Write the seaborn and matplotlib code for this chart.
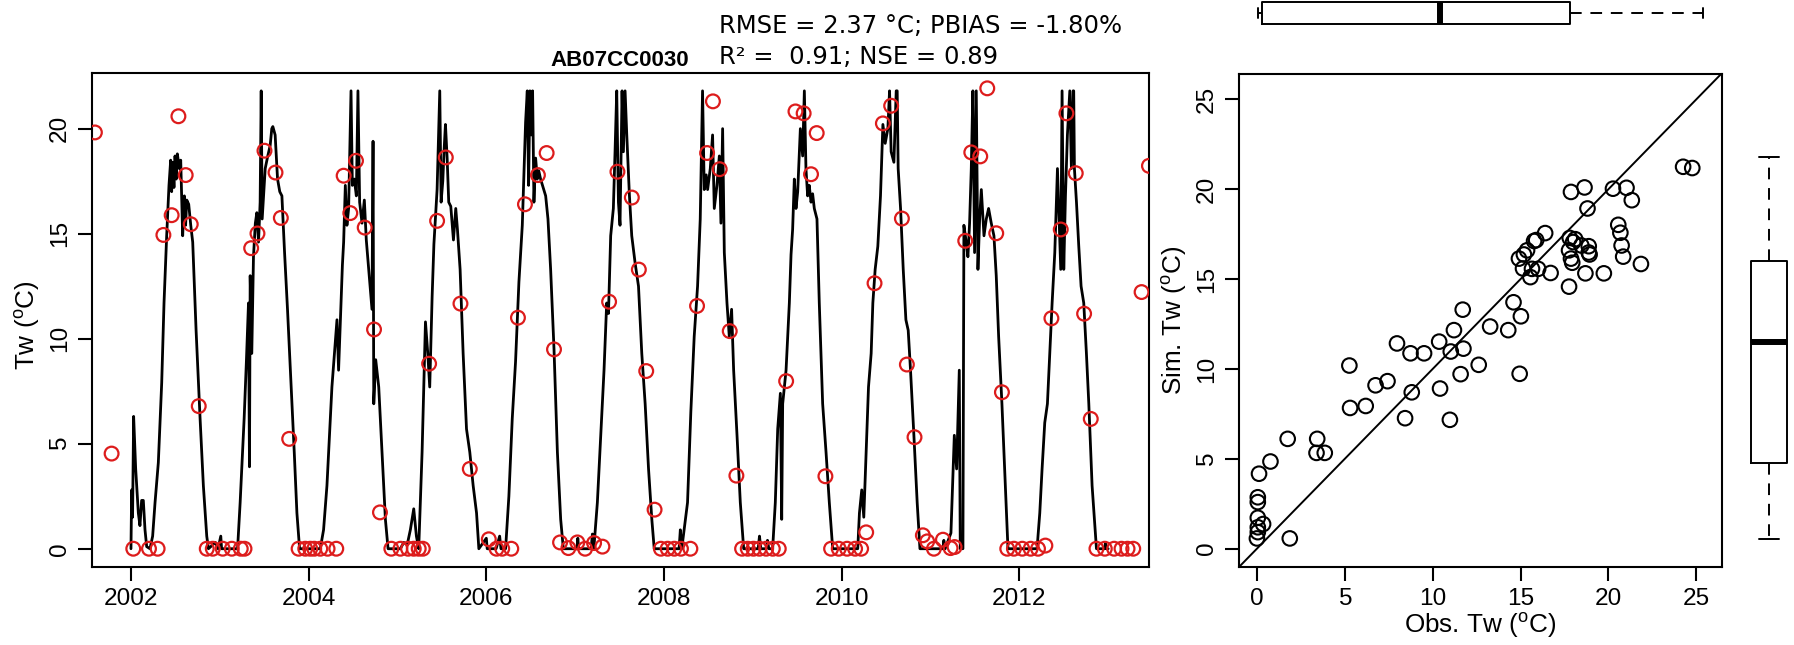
import matplotlib
matplotlib.use("Agg")
import numpy as np
import pandas as pd
import seaborn as sns
import matplotlib.pyplot as plt

#### DATA
station = "AB07CC0030"
stats_line1 = "RMSE = 2.37 \u00b0C; PBIAS = -1.80%"
stats_line2 = "R\u00b2 =  0.91; NSE = 0.89"

# simulated water temperature, key points per season (decimal year, degC)
sim_2002 = [(2002.000, 0.0), (2002.008, 2.8), (2002.018, 1.5), (2002.030, 6.3), (2002.053, 3.8),
            (2002.083, 1.7), (2002.101, 1.1), (2002.120, 2.3), (2002.139, 2.3), (2002.158, 0.9),
            (2002.177, 0.1), (2002.214, 0.0), (2002.244, 0.6), (2002.271, 2.2), (2002.308, 4.1),
            (2002.346, 7.9), (2002.372, 11.7), (2002.402, 14.9), (2002.428, 17.3), (2002.447, 18.5),
            (2002.458, 17.0), (2002.470, 18.4), (2002.484, 17.2), (2002.496, 18.7), (2002.510, 17.6),
            (2002.522, 18.8), (2002.545, 18.1), (2002.560, 18.5), (2002.582, 14.9), (2002.601, 16.8),
            (2002.615, 15.4), (2002.628, 16.6), (2002.650, 16.4), (2002.673, 15.4), (2002.695, 14.6),
            (2002.733, 10.4), (2002.778, 6.2), (2002.815, 3.0), (2002.853, 0.6), (2002.872, 0.0),
            (2002.950, 0.3), (2002.980, 0.0), (2003.011, 0.6), (2003.020, 0.0), (2003.200, 0.0)]
sim_2003 = [(2003.229, 2.2), (2003.274, 6.2), (2003.300, 9.0), (2003.323, 11.7), (2003.334, 3.9),
            (2003.342, 13.0), (2003.360, 9.3), (2003.379, 13.9), (2003.400, 15.5), (2003.417, 16.0),
            (2003.436, 14.6), (2003.454, 16.5), (2003.466, 21.8), (2003.477, 15.7), (2003.495, 17.0),
            (2003.511, 18.1), (2003.540, 18.7), (2003.567, 19.2), (2003.585, 20.0), (2003.597, 20.1),
            (2003.623, 19.7), (2003.650, 17.6), (2003.675, 17.0), (2003.699, 16.8), (2003.729, 14.1),
            (2003.762, 11.4), (2003.804, 7.7), (2003.838, 4.6), (2003.868, 1.7), (2003.898, 0.0),
            (2004.131, 0.0)]
sim_2004 = [(2004.168, 0.9), (2004.206, 3.0), (2004.262, 7.7), (2004.300, 9.8), (2004.319, 10.9),
            (2004.337, 8.5), (2004.364, 11.7), (2004.380, 13.5), (2004.394, 14.6), (2004.413, 17.3),
            (2004.431, 15.4), (2004.450, 16.2), (2004.477, 21.8), (2004.492, 17.3), (2004.514, 17.6),
            (2004.537, 16.8), (2004.555, 21.8), (2004.574, 16.5), (2004.601, 15.5), (2004.627, 16.6),
            (2004.649, 14.7), (2004.676, 13.3), (2004.706, 11.7), (2004.713, 11.4), (2004.725, 19.4),
            (2004.733, 6.9), (2004.755, 9.0), (2004.789, 7.7), (2004.826, 4.6), (2004.864, 1.4),
            (2004.894, 0.0), (2005.033, 0.0), (2005.070, 0.3), (2005.110, 0.2), (2005.145, 0.9),
            (2005.183, 1.9), (2005.213, 0.6), (2005.239, 0.0)]
sim_2005 = [(2005.277, 4.6), (2005.315, 10.8), (2005.341, 9.3), (2005.363, 7.7), (2005.390, 12.0),
            (2005.410, 14.5), (2005.427, 15.7), (2005.446, 17.1), (2005.476, 21.8), (2005.491, 16.5),
            (2005.510, 17.5), (2005.525, 19.0), (2005.540, 20.2), (2005.559, 18.6), (2005.577, 16.5),
            (2005.600, 16.3), (2005.630, 14.7), (2005.656, 16.2), (2005.675, 15.2), (2005.705, 13.3),
            (2005.739, 9.3), (2005.777, 5.7), (2005.814, 4.6), (2005.852, 3.0), (2005.890, 1.7),
            (2005.916, 0.0), (2006.000, 0.5), (2006.010, 0.0), (2006.110, 0.0), (2006.150, 0.6),
            (2006.165, 0.0), (2006.217, 0.0)]
sim_2006 = [(2006.254, 2.5), (2006.292, 6.2), (2006.329, 8.9), (2006.367, 12.7), (2006.405, 15.4),
            (2006.431, 18.9), (2006.442, 20.3), (2006.461, 21.8), (2006.476, 17.3), (2006.491, 21.8),
            (2006.506, 19.7), (2006.521, 21.8), (2006.536, 16.5), (2006.555, 18.6), (2006.574, 17.6),
            (2006.590, 18.0), (2006.611, 17.6), (2006.640, 17.2), (2006.668, 16.8), (2006.694, 15.7),
            (2006.724, 13.3), (2006.762, 9.5), (2006.800, 4.6), (2006.837, 1.4), (2006.867, 0.0),
            (2007.020, 0.0), (2007.030, 0.5), (2007.040, 0.0), (2007.180, 0.0), (2007.194, 0.7),
            (2007.210, 0.0)]
sim_2007 = [(2007.250, 2.2), (2007.288, 5.4), (2007.325, 8.5), (2007.355, 11.7), (2007.375, 11.2),
            (2007.400, 14.9), (2007.430, 16.2), (2007.449, 18.9), (2007.468, 21.8), (2007.487, 16.5),
            (2007.505, 15.4), (2007.528, 21.8), (2007.543, 18.9), (2007.562, 21.8), (2007.581, 19.7),
            (2007.611, 16.8), (2007.637, 14.9), (2007.675, 13.6), (2007.713, 12.5), (2007.750, 9.3),
            (2007.788, 6.9), (2007.826, 3.8), (2007.863, 1.4), (2007.890, 0.0), (2008.170, 0.0),
            (2008.184, 0.9), (2008.200, 0.0)]
sim_2008 = [(2008.265, 2.2), (2008.302, 6.5), (2008.340, 10.1), (2008.378, 12.5), (2008.408, 15.7),
            (2008.434, 21.8), (2008.453, 17.1), (2008.475, 17.8), (2008.491, 17.1), (2008.521, 18.1),
            (2008.547, 19.7), (2008.566, 16.2), (2008.596, 17.3), (2008.623, 18.7), (2008.641, 15.5),
            (2008.660, 20.0), (2008.679, 14.1), (2008.709, 11.7), (2008.735, 10.1), (2008.761, 11.4),
            (2008.784, 8.5), (2008.822, 5.4), (2008.859, 2.2), (2008.897, 0.0), (2009.060, 0.0),
            (2009.075, 0.6), (2009.090, 0.0), (2009.150, 0.0), (2009.165, 0.4), (2009.180, 0.0),
            (2009.223, 0.0)]
sim_2009 = [(2009.253, 2.2), (2009.280, 5.7), (2009.310, 7.4), (2009.325, 1.4), (2009.336, 6.9),
            (2009.374, 8.5), (2009.411, 11.7), (2009.430, 14.0), (2009.448, 15.2), (2009.467, 17.6),
            (2009.486, 16.2), (2009.505, 17.0), (2009.535, 20.0), (2009.561, 18.7), (2009.580, 21.8),
            (2009.598, 18.1), (2009.617, 16.8), (2009.635, 17.3), (2009.655, 16.5), (2009.673, 16.9),
            (2009.692, 16.2), (2009.722, 15.7), (2009.748, 11.7), (2009.786, 6.9), (2009.824, 4.6),
            (2009.861, 2.2), (2009.899, 0.0), (2010.181, 0.0)]
sim_2010 = [(2010.200, 1.7), (2010.226, 2.8), (2010.249, 1.5), (2010.276, 4.6), (2010.302, 7.7),
            (2010.332, 9.3), (2010.351, 11.7), (2010.377, 13.3), (2010.407, 14.4), (2010.437, 16.8),
            (2010.464, 20.2), (2010.490, 19.3), (2010.520, 20.0), (2010.539, 21.8), (2010.557, 18.9),
            (2010.588, 18.4), (2010.614, 21.8), (2010.625, 21.8), (2010.636, 18.1), (2010.663, 16.2),
            (2010.693, 13.3), (2010.723, 10.9), (2010.749, 10.4), (2010.775, 8.5), (2010.813, 5.4),
            (2010.850, 2.2), (2010.881, 0.0), (2011.140, 0.0), (2011.150, 0.4), (2011.165, 0.0),
            (2011.230, 0.75)]
sim_2011 = [(2011.268, 5.4), (2011.294, 3.8), (2011.324, 8.5), (2011.335, 0.0), (2011.365, 0.0),
            (2011.376, 15.4), (2011.402, 14.6), (2011.421, 13.9), (2011.440, 15.5), (2011.459, 18.1),
            (2011.477, 21.8), (2011.496, 14.1), (2011.515, 21.8), (2011.534, 13.3), (2011.553, 15.7),
            (2011.572, 17.1), (2011.602, 14.9), (2011.628, 15.7), (2011.654, 16.2), (2011.684, 15.5),
            (2011.714, 14.9), (2011.740, 13.0), (2011.767, 10.1), (2011.804, 6.9), (2011.834, 3.8),
            (2011.872, 0.0), (2012.200, 0.0), (2012.210, 0.6)]
sim_2012 = [(2012.230, 1.7), (2012.256, 3.8), (2012.286, 6.0), (2012.316, 6.9), (2012.342, 9.3),
            (2012.369, 11.7), (2012.399, 14.1), (2012.429, 18.1), (2012.447, 15.7), (2012.466, 13.3),
            (2012.481, 21.8), (2012.500, 13.3), (2012.519, 16.8), (2012.541, 19.7), (2012.568, 21.8),
            (2012.586, 18.1), (2012.605, 21.8), (2012.612, 21.8), (2012.620, 18.1), (2012.643, 16.5),
            (2012.669, 14.4), (2012.695, 12.5), (2012.725, 11.7), (2012.755, 9.3), (2012.782, 6.9),
            (2012.819, 3.0), (2012.868, 0.0), (2012.960, 0.0), (2012.970, 0.3), (2012.980, 0.0),
            (2013.000, 0.0)]

# observed water temperature (red circles)
obs_points = [(2001.594, 19.82), (2001.782, 4.53), (2002.026, 0.0), (2002.203, 0.0), (2002.300, 0.0),
              (2002.365, 14.94), (2002.458, 15.88), (2002.534, 20.59), (2002.616, 17.79), (2002.673, 15.45),
              (2002.763, 6.79), (2002.853, 0.0), (2002.921, 0.0), (2003.033, 0.0), (2003.135, 0.0),
              (2003.236, 0.0), (2003.278, 0.0), (2003.353, 14.31), (2003.424, 15.01), (2003.503, 18.95),
              (2003.627, 17.91), (2003.687, 15.75), (2003.781, 5.23), (2003.887, 0.0), (2003.962, 0.0),
              (2004.018, 0.0), (2004.063, 0.0), (2004.131, 0.0), (2004.213, 0.0), (2004.311, 0.0),
              (2004.394, 17.76), (2004.469, 15.98), (2004.533, 18.47), (2004.631, 15.29), (2004.736, 10.44),
              (2004.803, 1.73), (2004.931, 0.0), (2005.033, 0.0), (2005.119, 0.0), (2005.183, 0.0),
              (2005.239, 0.0), (2005.285, 0.0), (2005.356, 8.81), (2005.446, 15.61), (2005.544, 18.63),
              (2005.709, 11.67), (2005.814, 3.80), (2006.028, 0.45), (2006.115, 0.0), (2006.179, 0.0),
              (2006.281, 0.0), (2006.356, 11.0), (2006.435, 16.40), (2006.581, 17.79), (2006.679, 18.84),
              (2006.762, 9.49), (2006.830, 0.30), (2006.924, 0.03), (2007.025, 0.30), (2007.112, 0.0),
              (2007.213, 0.27), (2007.307, 0.10), (2007.382, 11.76), (2007.476, 17.95), (2007.638, 16.72),
              (2007.717, 13.29), (2007.800, 8.46), (2007.894, 1.86), (2007.965, 0.0), (2008.041, 0.0),
              (2008.116, 0.0), (2008.191, 0.0), (2008.297, 0.0), (2008.372, 11.56), (2008.485, 18.84),
              (2008.551, 21.30), (2008.627, 18.07), (2008.740, 10.36), (2008.815, 3.48), (2008.879, 0.0),
              (2008.943, 0.0), (2009.007, 0.0), (2009.074, 0.0), (2009.150, 0.0), (2009.225, 0.0),
              (2009.292, 0.0), (2009.375, 7.98), (2009.480, 20.82), (2009.572, 20.73), (2009.655, 17.83),
              (2009.719, 19.79), (2009.817, 3.45), (2009.881, 0.0), (2009.967, 0.0), (2010.061, 0.0),
              (2010.151, 0.0), (2010.219, 0.0), (2010.276, 0.78), (2010.370, 12.64), (2010.464, 20.25),
              (2010.557, 21.09), (2010.678, 15.72), (2010.734, 8.77), (2010.820, 5.31), (2010.914, 0.64),
              (2010.963, 0.35), (2011.038, 0.0), (2011.140, 0.43), (2011.226, 0.03), (2011.271, 0.08),
              (2011.391, 14.66), (2011.459, 18.87), (2011.560, 18.68), (2011.639, 21.92), (2011.740, 15.02),
              (2011.804, 7.45), (2011.864, 0.0), (2011.939, 0.0), (2012.033, 0.0), (2012.127, 0.0),
              (2012.210, 0.0), (2012.293, 0.15), (2012.361, 10.97), (2012.466, 15.20), (2012.530, 20.73),
              (2012.635, 17.88), (2012.729, 11.19), (2012.804, 6.18), (2012.868, 0.0), (2012.962, 0.0),
              (2013.067, 0.0), (2013.150, 0.0), (2013.218, 0.0), (2013.282, 0.0), (2013.376, 12.22),
              (2013.459, 18.23)]

# paired obs / sim for the scatter
pair_obs = [0.00, 0.05, 0.05, 0.35, 0.05, 0.05, 0.05, 0.12, 0.77, 1.87, 1.75, 3.43, 3.39, 3.86,
            5.26, 5.30, 6.19, 6.75, 7.43, 7.97, 8.43, 8.74, 8.81, 9.51, 10.37, 10.42, 10.98, 11.03,
            11.21, 11.59, 11.75, 11.71, 12.62, 13.27, 14.30, 14.60, 15.02, 14.95, 14.91, 15.19, 15.37,
            15.14, 15.56, 15.65, 15.77, 15.89, 16.00, 16.40, 16.71, 17.76, 17.76, 17.80, 17.87, 17.87,
            17.94, 17.99, 18.11, 18.46, 18.64, 18.69, 18.81, 18.88, 18.88, 18.93, 19.74, 20.26, 20.56,
            20.68, 20.75, 20.84, 21.03, 21.33, 21.85, 24.25, 24.77]
pair_sim = [0.57, 0.92, 1.19, 1.37, 1.72, 2.59, 2.86, 4.17, 4.85, 0.57, 6.11, 6.11, 5.33, 5.33,
            10.19, 7.83, 7.94, 9.09, 9.32, 11.42, 7.26, 10.87, 8.70, 10.87, 11.52, 8.91, 7.17, 10.97,
            12.16, 9.71, 11.13, 13.30, 10.23, 12.36, 12.16, 13.71, 12.93, 9.73, 16.14, 16.37, 16.60,
            15.59, 15.11, 15.57, 17.12, 17.17, 15.57, 17.56, 15.34, 14.58, 16.60, 17.29, 19.85, 16.14,
            15.91, 17.06, 17.22, 16.87, 20.10, 15.32, 18.93, 16.83, 16.48, 16.37, 15.32, 20.03, 18.02,
            17.58, 16.87, 16.25, 20.08, 19.39, 15.84, 21.25, 21.18]

# box plot summaries: whisker low, Q1, median, Q3, whisker high
obs_box = [0.05, 0.28, 10.4, 17.8, 25.4]
sim_box = [0.53, 4.74, 11.5, 16.0, 21.8]

year_ticks = [2002, 2004, 2006, 2008, 2010, 2012]
tw_ticks = [0, 5, 10, 15, 20]
sc_ticks = [0, 5, 10, 15, 20, 25]

#### STYLE
sns.set_style("white")
plt.rcParams['font.family'] = ['Liberation Sans', 'DejaVu Sans']
plt.rcParams['mathtext.fontset'] = 'custom'
plt.rcParams['mathtext.rm'] = 'Liberation Sans'
plt.rcParams['mathtext.it'] = 'Liberation Sans:italic'
plt.rcParams['mathtext.bf'] = 'Liberation Sans:bold'
plt.rcParams['text.color'] = 'black'
plt.rcParams['axes.labelcolor'] = 'black'
plt.rcParams['xtick.color'] = 'black'
plt.rcParams['ytick.color'] = 'black'

W, H = 1794, 645
fig = plt.figure(figsize=(W / 100, H / 100), dpi=100)
fig.patch.set_facecolor('white')


def px_axes(left, top, right, bottom):
    # axes placed by pixel box (origin top-left)
    return fig.add_axes([left / W, 1 - bottom / H, (right - left) / W, (bottom - top) / H])


TICK_FS = 17.6
LAB_FS = 18.8
RED = '#dd1c1c'


def frame(ax):
    for s in ax.spines.values():
        s.set_visible(True)
        s.set_linewidth(1.5)
        s.set_color('black')
    ax.tick_params(direction='out', length=10, width=1.5, pad=5, labelsize=TICK_FS,
                   colors='black', bottom=True, left=True)
    ax.grid(False)


#### LEFT: time series
sim_df = pd.DataFrame(sim_2002 + sim_2003 + sim_2004 + sim_2005 + sim_2006 + sim_2007 +
                      sim_2008 + sim_2009 + sim_2010 + sim_2011 + sim_2012, columns=['year', 'tw'])
obs_df = pd.DataFrame(obs_points, columns=['year', 'tw'])

ax_ts = px_axes(91.7, 73, 1148.6, 567)
sns.lineplot(data=sim_df, x='year', y='tw', estimator=None, sort=False, color='black',
             lw=2.0, ax=ax_ts)
sns.scatterplot(data=obs_df, x='year', y='tw', marker='o', s=98, facecolors='none',
                edgecolor=RED, linewidth=1.6, ax=ax_ts, zorder=3)
ax_ts.set_xlim(2001.558, 2013.455)
ax_ts.set_ylim(-0.87, 22.65)
ax_ts.set_xticks(year_ticks)
ax_ts.set_xticklabels([str(y) for y in year_ticks])
ax_ts.set_yticks(tw_ticks)
frame(ax_ts)
ax_ts.set_yticklabels([str(v) for v in tw_ticks], rotation=90, va='center')
ax_ts.set_xlabel('')
ax_ts.set_ylabel(r'Tw ($\mathrm{^{o}}$C)', fontsize=LAB_FS)
ax_ts.yaxis.set_label_coords(-0.047, 0.49)
ax_ts.set_title(station, fontsize=16, fontweight='bold', pad=5)

fig.text(719 / W, 1 - 33.3 / H, stats_line1, fontsize=17.5, family='DejaVu Sans',
         ha='left', va='baseline')
fig.text(719 / W, 1 - 64 / H, stats_line2, fontsize=17.5, family='DejaVu Sans',
         ha='left', va='baseline')

#### RIGHT: scatter obs vs sim
sc_lim = (-1.02, 26.44)
pair_df = pd.DataFrame({'obs': pair_obs, 'sim': pair_sim})
ax_sc = px_axes(1239, 73.5, 1721.6, 567)
sns.scatterplot(data=pair_df, x='obs', y='sim', marker='o', s=110, facecolors='none',
                edgecolor='black', linewidth=1.5, ax=ax_sc, zorder=3)
ax_sc.axline((0, 0), slope=1, color='black', lw=1.4)
ax_sc.set_xlim(*sc_lim)
ax_sc.set_ylim(*sc_lim)
ax_sc.set_xticks(sc_ticks)
ax_sc.set_yticks(sc_ticks)
frame(ax_sc)
ax_sc.set_yticklabels([str(v) for v in sc_ticks], rotation=90, va='center')
ax_sc.set_xlabel(r'Obs. Tw ($\mathrm{^{o}}$C)', fontsize=LAB_FS)
ax_sc.set_ylabel(r'Sim. Tw ($\mathrm{^{o}}$C)', fontsize=LAB_FS)
ax_sc.xaxis.set_label_coords(0.5, -0.09)
ax_sc.yaxis.set_label_coords(-0.104, 0.5)


def box_stats(v):
    return dict(whislo=v[0], q1=v[1], med=v[2], q3=v[3], whishi=v[4], fliers=[])


bx_kw = dict(showfliers=False, patch_artist=False,
             boxprops=dict(color='black', lw=1.4),
             medianprops=dict(color='black', lw=4.3, solid_capstyle='butt'),
             whiskerprops=dict(color='black', lw=1.4, ls=(0, (6, 4.5))),
             capprops=dict(color='black', lw=1.4))

# top box plot (observed), shares the scatter x scale
ax_top = px_axes(1239, 0, 1721.6, 26)
ax_top.bxp([box_stats(obs_box)], positions=[0], widths=0.85, capwidths=0.42,
           orientation='horizontal', **bx_kw)
ax_top.set_xlim(*sc_lim)
ax_top.set_ylim(-0.5, 0.5)
ax_top.axis('off')

# right box plot (simulated), shares the scatter y scale
ax_right = px_axes(1749, 73.5, 1789, 567)
ax_right.bxp([box_stats(sim_box)], positions=[0], widths=0.91, capwidths=0.51,
             orientation='vertical', **bx_kw)
ax_right.set_ylim(*sc_lim)
ax_right.set_xlim(-0.5, 0.5)
ax_right.axis('off')

fig.savefig('out.png', dpi=100, facecolor='white')
